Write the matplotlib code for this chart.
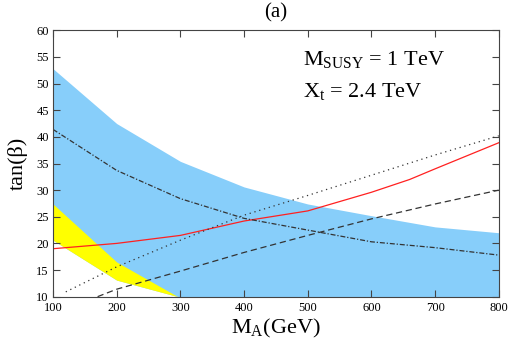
import matplotlib
matplotlib.use('Agg')
import matplotlib.pyplot as plt
import numpy as np

plt.rcParams['font.family'] = ['Liberation Serif', 'DejaVu Serif']
plt.rcParams['mathtext.fontset'] = 'custom'
plt.rcParams['mathtext.rm'] = 'Liberation Serif'
plt.rcParams['mathtext.it'] = 'Liberation Serif:italic'

# blue band (upper edge, lower edge)
blue_x = [100, 200, 300, 400, 500, 600, 700, 800]
blue_top = [52.8, 42.5, 35.4, 30.6, 27.4, 25.2, 23.1, 22.0]
blue_bot_x = [100, 200, 296, 800]
blue_bot = [20.6, 13.1, 10.0, 10.0]

# yellow band
yel_x = [100, 200, 296]
yel_top = [27.4, 16.5, 10.0]
yel_bot = [20.6, 13.1, 10.0]

# curves
red_x = [100, 200, 300, 400, 500, 600, 660, 700, 800]
red_y = [19.0, 20.0, 21.5, 24.2, 26.1, 29.6, 32.0, 34.0, 38.9]

dot_x = [120, 200, 300, 400, 500, 600, 700, 800]
dot_y = [10.9, 15.6, 20.6, 25.3, 29.0, 32.8, 36.6, 40.2]

dash_x = [170, 200, 300, 400, 500, 600, 700, 800]
dash_y = [10.0, 11.4, 14.8, 18.3, 21.5, 24.6, 27.4, 30.0]

dd_x = [100, 200, 300, 400, 500, 600, 700, 800]
dd_y = [41.4, 33.7, 28.4, 24.7, 22.5, 20.3, 19.2, 17.8]


def main():
    fig = plt.figure(figsize=(5.1, 3.49), dpi=100)
    ax = fig.add_axes([0.104, 0.150, 0.874, 0.763])

    # blue band on the union of both edge grids so the kinks stay sharp
    xs = np.union1d(blue_x, blue_bot_x)
    top = np.interp(xs, blue_x, blue_top)
    bot = np.interp(xs, blue_bot_x, blue_bot)
    ax.fill_between(xs, bot, top, color='#87cefa', lw=0)
    ax.fill_between(yel_x, yel_bot, yel_top, color='#ffff00', lw=0)

    ax.plot(red_x, red_y, color='#ff2020', lw=0.9)
    ax.plot(dot_x, dot_y, color='#333333', lw=0.9, ls=(0, (1, 3)))
    ax.plot(dash_x, dash_y, color='#333333', lw=0.9, ls=(0, (5, 3)))
    ax.plot(dd_x, dd_y, color='#333333', lw=0.9, ls=(0, (4, 1.5, 1, 1.5)))

    ax.set_xlim(100, 800)
    ax.set_ylim(10, 60)
    ax.set_xticks(range(100, 801, 100))
    ax.set_yticks(range(10, 61, 5))
    ax.tick_params(direction='in', length=5, width=0.8, top=True, right=True,
                   labelsize=9, color='#444444')
    ax.tick_params(axis='x', pad=4)
    ax.tick_params(axis='y', pad=3)
    for s in ax.spines.values():
        s.set_color('#444444')
        s.set_linewidth(0.8)

    ax.set_xlabel(r'M$_\mathrm{A}$(GeV)', fontsize=16, labelpad=2)
    ax.set_ylabel('tan(β)', fontsize=16, labelpad=6)
    ax.set_title('(a)', fontsize=15, pad=9)

    ax.text(493, 53.5, r'M$_\mathrm{SUSY}$ = 1 TeV', fontsize=16)
    ax.text(493, 47.5, r'X$_\mathrm{t}$ = 2.4 TeV', fontsize=16)

    fig.savefig('out.png', dpi=100)


if __name__ == '__main__':
    main()
